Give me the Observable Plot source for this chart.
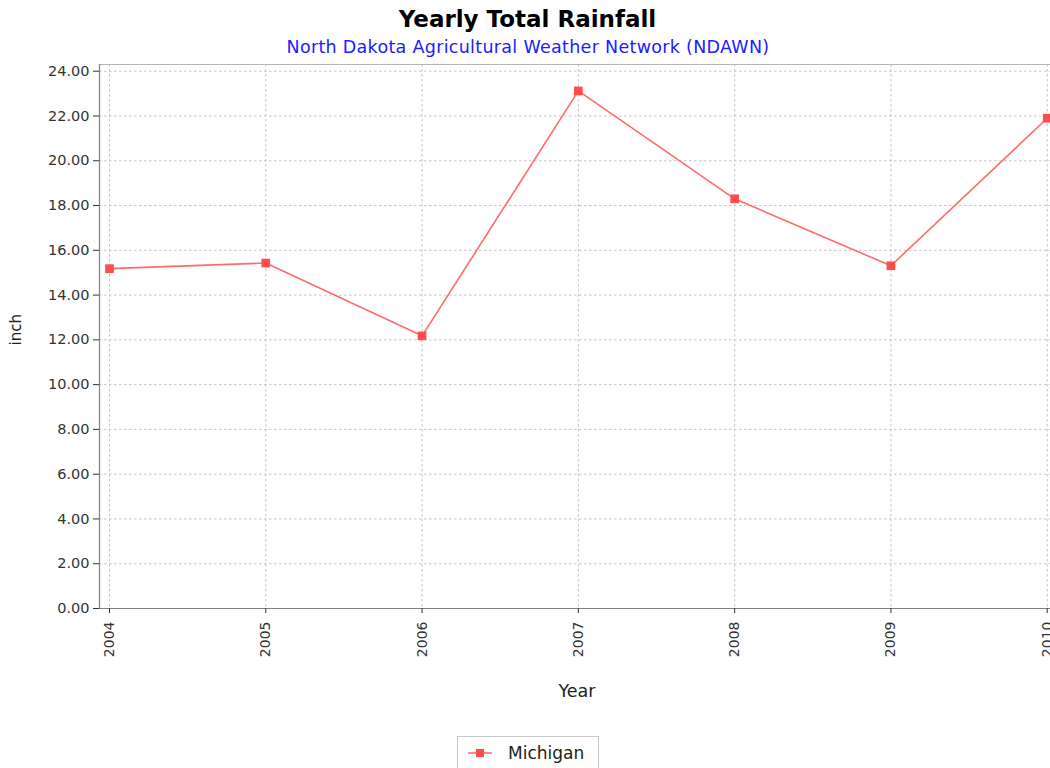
<!DOCTYPE html>
<html>
<head>
<meta charset="utf-8">
<script src="https://cdn.jsdelivr.net/npm/d3@7"></script>
<script src="https://cdn.jsdelivr.net/npm/@observablehq/plot@0.6"></script>
<style>
  html, body { margin: 0; padding: 0; background: #fff; }
  body { width: 1050px; height: 768px; overflow: hidden; position: relative; font-family: "DejaVu Sans", sans-serif; }
  #title { position: absolute; left: 0; top: 5px; width: 1055px; text-align: center; font-size: 23px; font-weight: bold; line-height: 28px; color: #000; }
  #subtitle { position: absolute; left: 0; top: 36px; width: 1056px; text-align: center; font-size: 17.5px; letter-spacing: 0.3px; line-height: 22px; color: #2020ff; }
  #chart { position: absolute; left: 0; top: 60px; }
  #legend { position: absolute; left: 457px; top: 736px; width: 140px; height: 40px; border: 1px solid #c8c8c8; background: #fff; }
  #legend svg { position: absolute; left: 8px; top: 8px; }
  #legend span { position: absolute; left: 50px; top: 5px; font-size: 17px; line-height: 22px; color: #222; }
</style>
</head>
<body>
<div id="title">Yearly Total Rainfall</div>
<div id="subtitle">North Dakota Agricultural Weather Network (NDAWN)</div>
<div id="chart"></div>
<div id="legend"></div>
<script>
const years = [2004, 2005, 2006, 2007, 2008, 2009, 2010];
const rainfall = [15.18, 15.43, 12.18, 23.12, 18.30, 15.31, 21.90];
const seriesName = "Michigan";
const yTicks = [0, 2, 4, 6, 8, 10, 12, 14, 16, 18, 20, 22, 24];

const data = years.map((year, i) => ({year, value: rainfall[i], series: seriesName}));

const lineColor = "#ff6a6a";
const markColor = "#ff4c4c";
const xDomain = [2003.936, 2010.021];
const yDomain = [0, 24.3];

const chart = Plot.plot({
  width: 1050,
  height: 676,
  marginTop: 4,
  marginBottom: 128,
  marginLeft: 99,
  marginRight: 0,
  style: {fontFamily: "DejaVu Sans, sans-serif", fontSize: "14.5px", background: "#fff", overflow: "hidden"},
  x: {type: "linear", domain: xDomain},
  y: {type: "linear", domain: yDomain},
  marks: [
    Plot.gridX(years, {stroke: "#c4c4c4", strokeOpacity: 1, strokeDasharray: "2.5,2.5"}),
    Plot.gridY(yTicks, {stroke: "#c4c4c4", strokeOpacity: 1, strokeDasharray: "2.5,2.5"}),
    Plot.ruleY([yDomain[1]], {stroke: "#b4b4b4", strokeWidth: 1}),
    Plot.ruleX([xDomain[0]], {stroke: "#808080", strokeWidth: 1.2}),
    Plot.ruleY([0], {stroke: "#808080", strokeWidth: 1.2}),
    Plot.axisY(yTicks, {
      tickFormat: d => d.toFixed(2), tickSize: 6, tickPadding: 4,
      fontSize: 14.5, fill: "#333", stroke: "#333", label: null
    }),
    Plot.axisX(years, {
      tickFormat: d => String(d), tickSize: 5, tickPadding: 8, tickRotate: -90,
      fontSize: 14, fill: "#333", stroke: "#333", label: null
    }),
    Plot.text(["inch"], {frameAnchor: "left", text: d => d, rotate: -90, dx: -83, dy: 9, fontSize: 15, fill: "#222"}),
    Plot.text(["Year"], {frameAnchor: "bottom", text: d => d, dx: 2, dy: 88, fontSize: 17.5, fill: "#222"}),
    Plot.line(data, {x: "year", y: "value", stroke: lineColor, strokeWidth: 1.6}),
    Plot.dot(data, {x: "year", y: "value", symbol: "square", r: 4.9, fill: markColor, stroke: "none"})
  ]
});
document.getElementById("chart").appendChild(chart);

// legend (swatch drawn with a line + square like the chart's series)
const legend = document.getElementById("legend");
const sw = d3.create("svg").attr("width", 30).attr("height", 18);
sw.append("line").attr("x1", 2).attr("x2", 26).attr("y1", 8).attr("y2", 8).attr("stroke", lineColor).attr("stroke-width", 1.6);
sw.append("rect").attr("x", 10).attr("y", 4).attr("width", 8).attr("height", 8).attr("fill", markColor);
legend.appendChild(sw.node());
const lab = document.createElement("span");
lab.textContent = seriesName;
legend.appendChild(lab);
</script>
</body>
</html>
